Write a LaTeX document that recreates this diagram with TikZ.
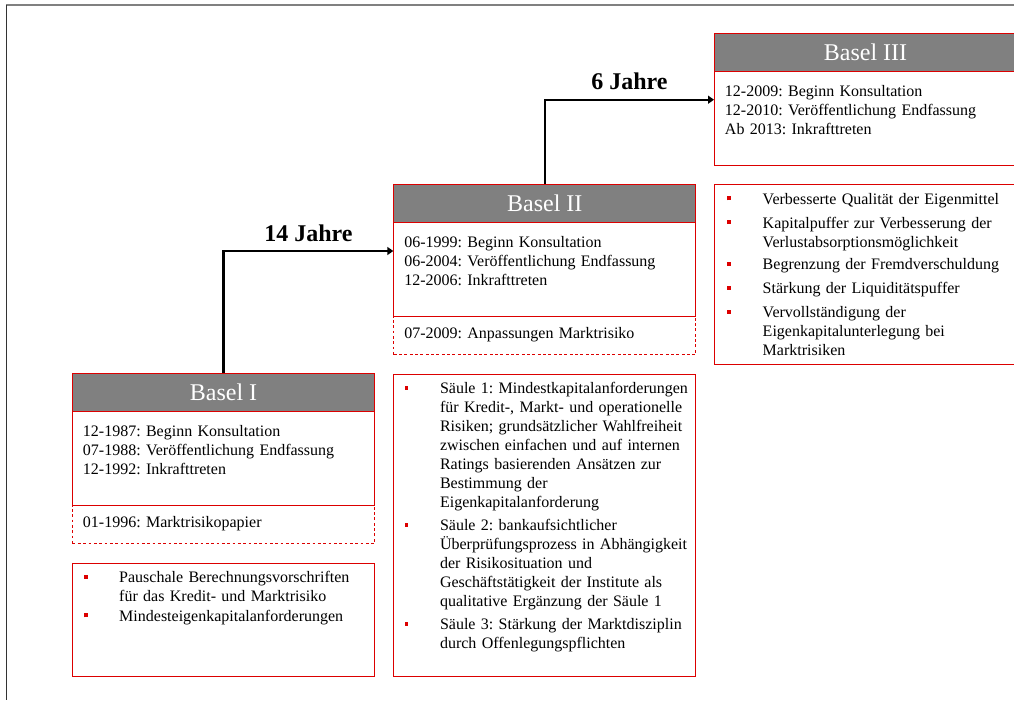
\documentclass[tikz,border=0pt]{standalone}
\usepackage{fontspec}
\setmainfont{Liberation Serif}
\usetikzlibrary{arrows.meta,calc}
\frenchspacing

\definecolor{bred}{RGB}{220,0,0}
\definecolor{hgray}{RGB}{128,128,128}

% small red square used as list bullet
\newcommand\sqbullet{\textcolor{bred}{\rule[3pt]{2.8pt}{3pt}}}
% one bullet item with hanging text block
\newcommand\bitem[1]{\par\noindent\makebox[26.6pt][l]{\sqbullet}\parbox[t]{190pt}{\strut#1}\par\vspace{3.6pt}}

\tikzset{
  hdr/.style={draw=bred, line width=0.75pt, fill=hgray, text=white,
    font=\fontsize{18pt}{21pt}\selectfont, inner sep=0pt,
    minimum width=226.5pt, minimum height=28.5pt, anchor=north west},
  bodybox/.style={draw=bred, line width=0.75pt, inner sep=0pt,
    minimum width=226.5pt, anchor=north west},
  dashbox/.style={bodybox, dash pattern=on 2.2pt off 1.8pt},
  txt/.style={inner sep=0pt, anchor=north west, text width=215pt, align=left,
    font=\fontsize{12pt}{14.25pt}\selectfont},
  conn/.style={line width=1.8pt, -{Triangle[length=4.5pt,width=6pt]}},
  lbl/.style={font=\fontsize{18pt}{21pt}\selectfont\bfseries, inner sep=0pt, anchor=base},
}

\begin{document}
\begin{tikzpicture}[x=0.75pt, y=-0.75pt]
\useasboundingbox (0,0) rectangle (1014,700);
\clip (0,0) rectangle (1014,700);

% page frame
\draw[line width=0.9pt, color=black!50] (6,5) -- (1014,5);
\draw[line width=0.9pt, color=black!80] (6.5,5) -- (6.5,700);

% ---------- frames: Basel I ----------
\coordinate (b1top) at (72,373);
\node[dashbox, minimum height=28.5pt] (b1d) at ($(b1top)+(0,132)$) {};
\node[bodybox, minimum height=70.5pt] (b1b) at ($(b1top)+(0,38)$) {};
\node[bodybox, minimum height=84.5pt] (b1l) at ($(b1d.south west)+(0,19.4)$) {};

% ---------- frames: Basel II ----------
\coordinate (b2top) at (393.3,184);
\node[dashbox, minimum height=28.5pt] (b2d) at ($(b2top)+(0,132)$) {};
\node[bodybox, minimum height=70.5pt] (b2b) at ($(b2top)+(0,38)$) {};
\node[bodybox, minimum height=226.1pt] (b2l) at ($(b2d.south west)+(0,19.2)$) {};

% ---------- frames: Basel III ----------
\coordinate (b3top) at (714,32.7);
\node[bodybox, minimum height=70.5pt] (b3b) at ($(b3top)+(0,38)$) {};
\node[bodybox, minimum height=135pt] (b3l) at ($(b3b.south west)+(0,18.3)$) {};

% ---------- headers ----------
\node[hdr] (b1h) at (b1top) {Basel I};
\node[hdr] (b2h) at (b2top) {Basel II};
\node[hdr] (b3h) at (b3top) {Basel III};

% ---------- transitions ----------
\draw[conn] (b1h.north) |- node[lbl, pos=0.75, yshift=7.3pt] (l14) {14 Jahre} ($(b2b.north west)+(0,29)$);
\draw[conn] (b2h.north) |- node[lbl, pos=0.75, yshift=7.3pt] (l6) {6 Jahre} ($(b3b.north west)+(0,29)$);

% ---------- texts ----------
\node[txt] (b1bt) at ($(b1b.north west)+(10.7,11.7)$)
  {\strut 12-1987: Beginn Konsultation\\07-1988: Veröffentlichung Endfassung\\12-1992: Inkrafttreten};
\node[txt] (b1dt) at ($(b1d.north west)+(10.7,9)$) {\strut 01-1996: Marktrisikopapier};

\node[txt] (b2bt) at ($(b2b.north west)+(10.7,11.5)$)
  {\strut 06-1999: Beginn Konsultation\\06-2004: Veröffentlichung Endfassung\\12-2006: Inkrafttreten};
\node[txt] (b2dt) at ($(b2d.north west)+(10.7,9)$) {\strut 07-2009: Anpassungen Marktrisiko};

\node[txt] (b3bt) at ($(b3b.north west)+(10.7,12.5)$)
  {\strut 12-2009: Beginn Konsultation\\12-2010: Veröffentlichung Endfassung\\Ab 2013: Inkrafttreten};

\node[txt] (b1lt) at ($(b1l.north west)+(11.5,0)$)
  {\bitem{Pauschale Berechnungsvorschriften\\für das Kredit- und Marktrisiko}%
   \bitem{Mindesteigenkapitalanforderungen}};
\node[txt] (b2lt) at ($(b2l.north west)+(11,0.5)$)
  {\bitem{Säule 1: Mindestkapitalanforderungen\\für Kredit-, Markt- und operationelle\\Risiken; grundsätzlicher Wahlfreiheit\\zwischen einfachen und auf internen\\Ratings basierenden Ansätzen zur\\Bestimmung der\\Eigenkapitalanforderung}%
   \bitem{Säule 2: bankaufsichtlicher\\Überprüfungsprozess in Abhängigkeit\\der Risikosituation und\\Geschäftstätigkeit der Institute als\\qualitative Ergänzung der Säule 1}%
   \bitem{Säule 3: Stärkung der Marktdisziplin\\durch Offenlegungspflichten}};
\node[txt] (b3lt) at ($(b3l.north west)+(13,1)$)
  {\bitem{Verbesserte Qualität der Eigenmittel}%
   \bitem{Kapitalpuffer zur Verbesserung der\\Verlustabsorptionsmöglichkeit}%
   \bitem{Begrenzung der Fremdverschuldung}%
   \bitem{Stärkung der Liquiditätspuffer}%
   \bitem{Vervollständigung der\\Eigenkapitalunterlegung bei\\Marktrisiken}};
\end{tikzpicture}
\end{document}
